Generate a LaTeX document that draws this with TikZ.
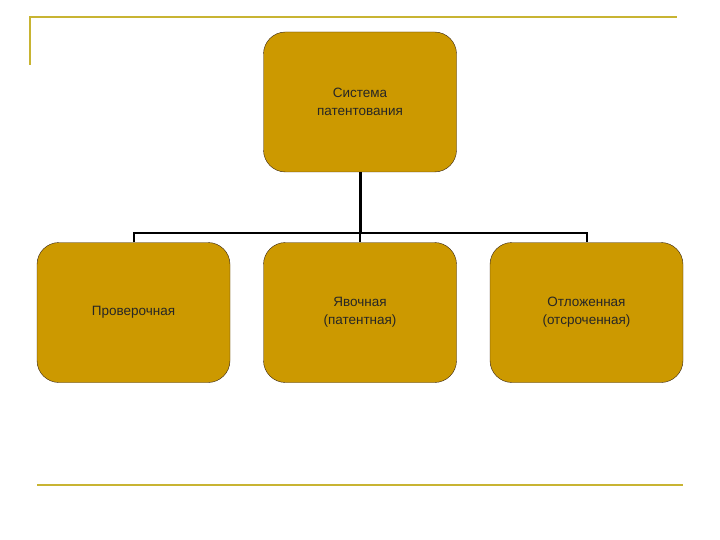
\documentclass[tikz,border=0pt]{standalone}
\usepackage{fontspec}
\setmainfont{Liberation Sans}
\begin{document}
\begin{tikzpicture}[x=1pt,y=-1pt,
  box/.style={draw=black!70!brown,fill=gold,rounded corners=22pt,minimum width=193pt,minimum height=140pt,align=center,font=\fontsize{13.5}{18}\selectfont,text=black!85},
  deco/.style={draw=olive!70!yellow,line width=2pt}]
\definecolor{gold}{RGB}{204,153,0}
\colorlet{olive}{olive}
\useasboundingbox[fill=white] (0,0) rectangle (720,540);
\draw[draw={rgb,255:red,200;green,180;blue,50},line width=2pt] (30,65) -- (30,17) -- (677,17);
\draw[draw={rgb,255:red,200;green,180;blue,50},line width=2pt] (37,485) -- (683,485);
\node[box] (top) at (360,102) {Система\\патентования};
\node[box] (a) at (133.5,312.5) {Проверочная};
\node[box] (b) at (360,312.5) {Явочная\\(патентная)};
\node[box] (c) at (586.5,312.5) {Отложенная\\(отсроченная)};
\coordinate (m) at (360,233);
\draw[line width=3pt] (top.south) -- (m);
\draw[line width=2pt] (a.north) -- (a.north |- m) -- (c.north |- m) -- (c.north);
\draw[line width=2pt] (m) -- (b.north);
\end{tikzpicture}
\end{document}
